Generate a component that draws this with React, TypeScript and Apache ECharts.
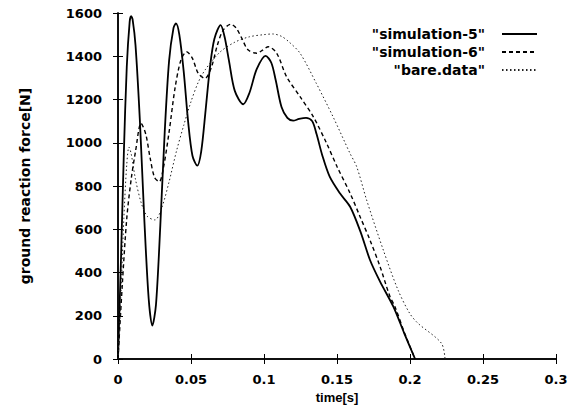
import React, { useEffect, useRef } from "react";
import * as echarts from "echarts";

const seriesNames = ['"simulation-5"', '"simulation-6"', '"bare.data"'];

const sim5T = [0, 0.002, 0.004, 0.006, 0.008, 0.009, 0.010, 0.012, 0.015, 0.018, 0.021, 0.0235, 0.026, 0.029, 0.032, 0.035, 0.038, 0.0397, 0.042, 0.045, 0.048, 0.051, 0.0543, 0.057, 0.060, 0.063, 0.066, 0.0703, 0.073, 0.076, 0.080, 0.0858, 0.090, 0.095, 0.1011, 0.105, 0.108, 0.112, 0.116, 0.120, 0.124, 0.1288, 0.133, 0.136, 0.140, 0.145, 0.152, 0.159, 0.166, 0.1726, 0.1795, 0.1886, 0.196, 0.2035];
const sim5F = [0, 450, 950, 1350, 1560, 1585, 1570, 1450, 1100, 650, 280, 155, 250, 620, 1050, 1380, 1530, 1552, 1500, 1330, 1100, 940, 894, 960, 1150, 1350, 1480, 1544, 1490, 1380, 1240, 1178, 1230, 1340, 1402, 1370, 1290, 1165, 1115, 1102, 1110, 1115, 1100, 1040, 940, 843, 766, 704, 590, 458, 358, 242, 120, 0];

const sim6T = [0, 0.003, 0.006, 0.009, 0.012, 0.0158, 0.019, 0.022, 0.025, 0.0283, 0.031, 0.035, 0.039, 0.043, 0.047, 0.051, 0.055, 0.0596, 0.064, 0.068, 0.072, 0.0772, 0.081, 0.085, 0.089, 0.095, 0.099, 0.103, 0.1087, 0.1155, 0.1247, 0.1338, 0.1429, 0.150, 0.159, 0.1658, 0.1726, 0.1795, 0.1863, 0.1897, 0.196, 0.2035];
const sim6F = [0, 350, 650, 830, 960, 1090, 1040, 930, 840, 820, 880, 1050, 1250, 1380, 1421, 1390, 1320, 1298, 1350, 1450, 1520, 1548, 1530, 1480, 1430, 1414, 1428, 1444, 1414, 1305, 1213, 1120, 997, 890, 766, 658, 550, 427, 288, 242, 125, 0];

const bareT = [0, 0.002, 0.004, 0.006, 0.0075, 0.009, 0.012, 0.016, 0.020, 0.0253, 0.030, 0.035, 0.040, 0.045, 0.050, 0.055, 0.060, 0.070, 0.080, 0.090, 0.100, 0.106, 0.112, 0.117, 0.1247, 0.1358, 0.1473, 0.1589, 0.1635, 0.1703, 0.1817, 0.1918, 0.1998, 0.2055, 0.2215, 0.224];
const bareF = [0, 300, 650, 900, 980, 950, 830, 720, 660, 643, 700, 820, 960, 1080, 1190, 1280, 1340, 1420, 1465, 1490, 1500, 1503, 1492, 1467, 1414, 1275, 1120, 951, 889, 735, 504, 319, 211, 165, 73, 0];

const xTickLabels = ["0", "0.05", "0.1", "0.15", "0.2", "0.25", "0.3"];
const yTickLabels = ["0", "200", "400", "600", "800", "1000", "1200", "1400", "1600"];

const FONT = "DejaVu Sans";

export default function App() {
  const ref = useRef<HTMLDivElement>(null);
  useEffect(() => {
    if (!ref.current) return;
    const chart = echarts.init(ref.current, undefined, { renderer: "svg" });
    const pair = (ts: number[], fs: number[]) => ts.map((t, i) => [t, fs[i]]);
    const labelStyle = { fontFamily: FONT, fontWeight: "bold" as const, fontSize: 13, color: "#000" };
    const tickCommon = { inside: true, length: 5, lineStyle: { color: "#000", width: 1 } };
    chart.setOption({
      animation: false,
      backgroundColor: "#fff",
      grid: { left: 118, right: 19, top: 13, bottom: 51, containLabel: false },
      legend: {
        orient: "vertical",
        right: 32,
        top: 22,
        align: "right",
        itemWidth: 35,
        itemHeight: 14,
        itemGap: 4,
        itemStyle: { color: "transparent", borderWidth: 0 },
        textStyle: { ...labelStyle, fontSize: 14, padding: [0, 12, 0, 0] },
        data: seriesNames,
      },
      xAxis: [
        {
          type: "value",
          min: 0,
          max: 0.3,
          interval: 0.05,
          name: "time[s]",
          nameLocation: "middle",
          nameGap: 31,
          nameTextStyle: { ...labelStyle, fontFamily: "Liberation Sans" },
          axisLine: { show: true, lineStyle: { color: "#000", width: 1.5 } },
          axisTick: tickCommon,
          axisLabel: { ...labelStyle, margin: 14, formatter: (_v: number, i: number) => xTickLabels[i] ?? "" },
          splitLine: { show: false },
        },
        {
          type: "value",
          position: "top",
          min: 0,
          max: 0.3,
          interval: 0.05,
          axisLine: { show: true, lineStyle: { color: "#000", width: 1.5 } },
          axisTick: tickCommon,
          axisLabel: { show: false },
          splitLine: { show: false },
        },
      ],
      yAxis: [
        {
          type: "value",
          min: 0,
          max: 1600,
          interval: 200,
          name: "ground reaction force[N]",
          nameLocation: "middle",
          nameGap: 86,
          nameTextStyle: { ...labelStyle, fontSize: 14 },
          axisLine: { show: true, lineStyle: { color: "#000", width: 1.5 } },
          axisTick: tickCommon,
          axisLabel: { ...labelStyle, margin: 16, formatter: (_v: number, i: number) => yTickLabels[i] ?? "" },
          splitLine: { show: false },
        },
        {
          type: "value",
          position: "right",
          min: 0,
          max: 1600,
          interval: 200,
          axisLine: { show: true, lineStyle: { color: "#000", width: 1.5 } },
          axisTick: tickCommon,
          axisLabel: { show: false },
          splitLine: { show: false },
        },
      ],
      series: [
        {
          name: seriesNames[0],
          type: "line",
          data: pair(sim5T, sim5F),
          smooth: 0.3,
          showSymbol: false,
          symbol: "none",
          lineStyle: { color: "#000", width: 1.8, type: "solid" },
          itemStyle: { color: "#000" },
        },
        {
          name: seriesNames[1],
          type: "line",
          data: pair(sim6T, sim6F),
          smooth: 0.3,
          showSymbol: false,
          symbol: "none",
          lineStyle: { color: "#000", width: 1.4, type: [4, 3] },
          itemStyle: { color: "#000" },
        },
        {
          name: seriesNames[2],
          type: "line",
          data: pair(bareT, bareF),
          smooth: 0.3,
          showSymbol: false,
          symbol: "none",
          lineStyle: { color: "#222", width: 1, type: [1.5, 2.5] },
          itemStyle: { color: "#000" },
        },
      ],
    });
    return () => chart.dispose();
  }, []);
  return <div ref={ref} style={{ position: "fixed", left: 0, top: 0, width: 575, height: 410 }} />;
}
